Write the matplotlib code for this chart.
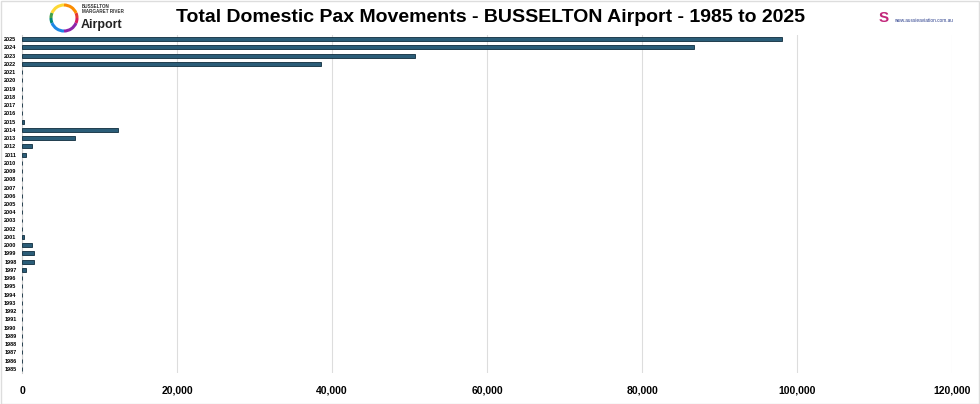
import matplotlib
matplotlib.use("Agg")
from matplotlib import pyplot as plt
from matplotlib.patches import Arc, Rectangle

years = list(range(1985, 2026))
pax = {
    1997: 550, 1998: 1600, 1999: 1550, 2000: 1300, 2001: 250,
    2011: 500, 2012: 1300, 2013: 6800, 2014: 12400, 2015: 300,
    2022: 38600, 2023: 50700, 2024: 86700, 2025: 98000,
}
values = [pax.get(y, 0) for y in years]
xticks = [0, 20000, 40000, 60000, 80000, 100000, 120000]

plt.rcParams['font.family'] = ['Liberation Sans Narrow', 'Liberation Sans', 'DejaVu Sans']

fig = plt.figure(figsize=(9.8, 4.04), dpi=100)
ax = fig.add_axes([22 / 980, 31 / 404, 930 / 980, 338 / 404])

ax.barh(years, values, height=0.48, color='#2b5d78', edgecolor='#0f2c3d', linewidth=0.6, zorder=3)
ax.set_xlim(0, 120000)
ax.set_ylim(1984.5, 2025.5)
ax.set_yticks(years)
ax.set_yticklabels([str(y) for y in years], fontsize=4, fontweight='bold')
ax.set_xticks(xticks)
ax.set_xticklabels(['{:,}'.format(v) for v in xticks], fontsize=7.5, fontweight='bold')
ax.tick_params(axis='both', length=0)
ax.tick_params(axis='x', pad=9)
ax.tick_params(axis='y', pad=4)
ax.grid(axis='x', color='#dddddd', linewidth=0.8, zorder=0)
for s in ['top', 'right', 'bottom']:
    ax.spines[s].set_visible(False)
ax.spines['left'].set_color('#cccccc')
ax.spines['left'].set_linewidth(0.8)

fig.text(0.5, 1 - 17 / 404, 'Total Domestic Pax Movements - BUSSELTON Airport - 1985 to 2025',
         ha='center', va='center', fontsize=14, fontweight='bold')

# left logo: multicoloured ring
ring_colors = ['#e53935', '#fb8c00', '#fdd835', '#43a047', '#00897b', '#1e88e5', '#8e24aa', '#d81b60']
for i, c in enumerate(ring_colors):
    fig.add_artist(Arc((64 / 980, 1 - 18 / 404), 26 / 980, 26 / 404, theta1=i * 45, theta2=(i + 1) * 45,
                       transform=fig.transFigure, lw=2.2, color=c))
fig.text(82 / 980, 1 - 9 / 404, 'BUSSELTON\nMARGARET RIVER', fontsize=3.3, fontweight='bold',
         va='center', ha='left', color='#333333', linespacing=0.9)
fig.text(81 / 980, 1 - 25 / 404, 'Airport', fontsize=9, fontweight='bold',
         va='center', ha='left', color='#222222')

# right logo
fig.text(884 / 980, 1 - 18 / 404, 'S', fontsize=11, fontweight='bold', color='#c2267a',
         ha='center', va='center')
fig.text(894 / 980, 1 - 21 / 404, 'www.aussieaviation.com.au', fontsize=3.4,
         color='#2a3e8c', ha='left', va='center')

fig.add_artist(Rectangle((0.001, 0.001), 0.998, 0.997, transform=fig.transFigure,
                         fill=False, edgecolor='#dddddd', lw=1))

fig.savefig('out.png', dpi=100)
